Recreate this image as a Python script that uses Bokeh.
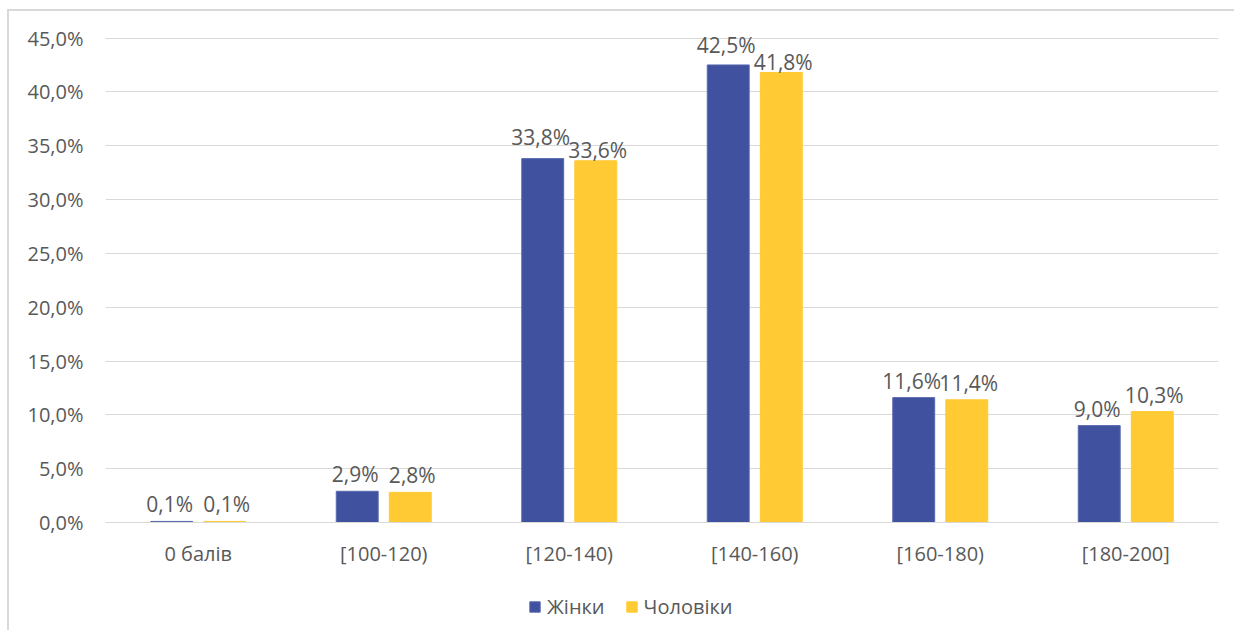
from bokeh.plotting import figure
from bokeh.layouts import column
from bokeh.models import ColumnDataSource, FactorRange, FixedTicker, CustomJSTickFormatter, Legend, LegendItem
from bokeh.transform import dodge
from bokeh.core.properties import value
from bokeh.embed import file_html
from bokeh.resources import INLINE

categories = ["0 балів", "[100-120)", "[120-140)", "[140-160)", "[160-180)", "[180-200]"]
women = [0.1, 2.9, 33.8, 42.5, 11.6, 9.0]
men = [0.1, 2.8, 33.6, 41.8, 11.4, 10.3]
series_names = ["Жінки", "Чоловіки"]
y_ticks = [0, 5, 10, 15, 20, 25, 30, 35, 40, 45]

# label placement (style): vertical offsets in px, like Excel's overlap avoidance
women_label_dy = [-17, -17, -22, -20, -17, -17]
men_label_dy = [-17, -17, -11, -10, -17, -17]

FONT = "Open Sans"
TXT = "#595959"
GRID = "#d9d9d9"
BLUE = "#3F519F"
BLUE_EDGE = "#5a69b0"
YELLOW = "#FFCA33"

def fmt(v):
    return f"{v:.1f}%".replace(".", ",")

src = ColumnDataSource(dict(
    cat=categories, women=women, men=men,
    wl=[fmt(v) for v in women], ml=[fmt(v) for v in men],
    wdy=women_label_dy, mdy=men_label_dy,
))

# y range extends a little above the top gridline so the highest labels are not clipped
p = figure(x_range=FactorRange(*categories), y_range=(0, 47),
           frame_width=1113, frame_height=506, output_backend="svg", toolbar_location=None,
           min_border_left=96, min_border_right=16, min_border_top=5, min_border_bottom=60)
p.outline_line_color = None
p.x_range.range_padding = 0
p.x_range.group_padding = 0

off = 0.143
bw = 0.226
p.vbar(x=dodge("cat", -off, range=p.x_range), top="women", width=bw, source=src,
       fill_color=BLUE, line_color=BLUE_EDGE, line_width=1)
p.vbar(x=dodge("cat", off, range=p.x_range), top="men", width=bw, source=src,
       fill_color=YELLOW, line_color=YELLOW, line_width=1)

for col, lab, dx, dy, xo in (("women", "wl", -off, "wdy", -2), ("men", "ml", off, "mdy", 2)):
    p.text(x=dodge("cat", dx, range=p.x_range), y=col, text=lab, source=src,
           text_align="center", text_baseline="alphabetic", y_offset=dy, x_offset=xo,
           text_font=value(FONT), text_font_size="21px", text_color=TXT)

p.yaxis.ticker = FixedTicker(ticks=y_ticks)
p.yaxis.formatter = CustomJSTickFormatter(code="return tick.toFixed(1).replace('.', ',') + '%';")
p.yaxis.axis_line_color = None
p.yaxis.major_tick_line_color = None
p.yaxis.minor_tick_line_color = None
p.yaxis.major_label_text_font = FONT
p.yaxis.major_label_text_font_size = "20px"
p.yaxis.major_label_text_color = TXT
p.yaxis.major_label_standoff = 16

p.xaxis.axis_line_color = GRID
p.xaxis.axis_line_width = 1
p.xaxis.major_tick_line_color = None
p.xaxis.minor_tick_line_color = None
p.xaxis.major_label_text_font = FONT
p.xaxis.major_label_text_font_size = "20px"
p.xaxis.major_label_text_color = TXT
p.xaxis.major_label_standoff = 11

p.xgrid.grid_line_color = None
p.ygrid.grid_line_color = GRID
p.ygrid.grid_line_width = 1

# legend strip below the chart (its key renderers reuse the data but sit far outside the strip's range)
lg = figure(width=1225, height=48, output_backend="svg", toolbar_location=None,
            x_axis_type=None, y_axis_type=None, min_border=0,
            x_range=(1000, 1001), y_range=(1000, 1001))
lg.outline_line_color = None
lg.xgrid.grid_line_color = None
lg.ygrid.grid_line_color = None
k1 = lg.vbar(x="women", top="women", width=0.1, source=src, fill_color=BLUE, line_color=BLUE_EDGE)
k2 = lg.vbar(x="men", top="men", width=0.1, source=src, fill_color=YELLOW, line_color=YELLOW)
legend = Legend(items=[LegendItem(label=series_names[0], renderers=[k1]),
                       LegendItem(label=series_names[1], renderers=[k2])],
                orientation="horizontal", location=(423, 10),
                glyph_width=13, glyph_height=13, label_text_font=FONT,
                label_text_font_size="20px", label_text_color=TXT,
                border_line_color=None, background_fill_alpha=0,
                spacing=20, label_standoff=6, padding=2, margin=0)
lg.add_layout(legend)

page = column(p, lg, spacing=0)
page.margin = (9, 0, 0, 7)
page.styles = {"border-top": "2px solid #d9d9d9", "border-left": "2px solid #d9d9d9"}

open("out.html", "w").write(file_html(page, INLINE))
